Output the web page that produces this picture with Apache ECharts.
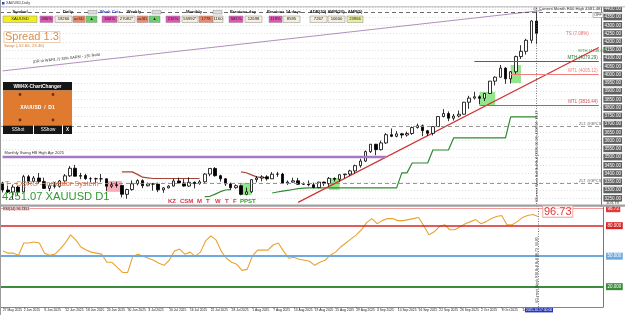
<!DOCTYPE html>
<html><head><meta charset="utf-8">
<script src="https://cdn.jsdelivr.net/npm/echarts@6/dist/echarts.min.js"></script>
<style>html,body{margin:0;padding:0;background:#fff;overflow:hidden}#c{width:625px;height:315px}</style>
</head><body><div id="c"></div>
<script>
// ---------------- DATA ----------------
const dates = [
'27 May 2025','28 May 2025','29 May 2025','30 May 2025',
'2 Jun 2025','3 Jun 2025','4 Jun 2025','5 Jun 2025','6 Jun 2025',
'9 Jun 2025','10 Jun 2025','11 Jun 2025','12 Jun 2025','13 Jun 2025',
'16 Jun 2025','17 Jun 2025','18 Jun 2025','19 Jun 2025','20 Jun 2025',
'23 Jun 2025','24 Jun 2025','25 Jun 2025','26 Jun 2025','27 Jun 2025',
'30 Jun 2025','1 Jul 2025','2 Jul 2025','3 Jul 2025','4 Jul 2025',
'7 Jul 2025','8 Jul 2025','9 Jul 2025','10 Jul 2025','11 Jul 2025',
'14 Jul 2025','15 Jul 2025','16 Jul 2025','17 Jul 2025','18 Jul 2025',
'21 Jul 2025','22 Jul 2025','23 Jul 2025','24 Jul 2025','25 Jul 2025',
'28 Jul 2025','29 Jul 2025','30 Jul 2025','31 Jul 2025','1 Aug 2025',
'4 Aug 2025','5 Aug 2025','6 Aug 2025','7 Aug 2025','8 Aug 2025',
'11 Aug 2025','12 Aug 2025','13 Aug 2025','14 Aug 2025','15 Aug 2025',
'18 Aug 2025','19 Aug 2025','20 Aug 2025','21 Aug 2025','22 Aug 2025',
'25 Aug 2025','26 Aug 2025','27 Aug 2025','28 Aug 2025','29 Aug 2025',
'1 Sep 2025','2 Sep 2025','3 Sep 2025','4 Sep 2025','5 Sep 2025',
'8 Sep 2025','9 Sep 2025','10 Sep 2025','11 Sep 2025','12 Sep 2025',
'15 Sep 2025','16 Sep 2025','17 Sep 2025','18 Sep 2025','19 Sep 2025',
'22 Sep 2025','23 Sep 2025','24 Sep 2025','25 Sep 2025','26 Sep 2025',
'29 Sep 2025','30 Sep 2025','1 Oct 2025','2 Oct 2025','3 Oct 2025',
'6 Oct 2025','7 Oct 2025','8 Oct 2025','9 Oct 2025','10 Oct 2025',
'13 Oct 2025','14 Oct 2025','15 Oct 2025','16 Oct 2025','17 Oct 2025'];
const futureSlots = 12;

const opens = [3342,3300,3288,3318,3289,3381,3353,3373,3352,3310,
3326,3323,3355,3386,3432,3384,3388,3369,3369,3368,
3368,3323,3332,3328,3274,3303,3338,3357,3326,3337,
3336,3301,3313,3324,3355,3343,3324,3347,3339,3350,
3397,3431,3387,3368,3337,3314,3326,3274,3289,3363,
3373,3380,3368,3396,3397,3342,3348,3356,3335,3336,
3332,3315,3348,3339,3371,3365,3393,3397,3416,3448,
3476,3533,3578,3545,3586,3636,3626,3641,3634,3643,
3679,3690,3660,3644,3685,3746,3764,3736,3749,3760,
3833,3858,3866,3857,3886,3961,3985,4040,3975,4018,
4110,4142,4209,4326];
const highs = [3350,3325,3330,3326,3392,3392,3385,3403,3375,3340,
3348,3361,3397,3445,3452,3404,3399,3378,3375,3398,
3370,3348,3350,3329,3308,3358,3365,3365,3345,3343,
3345,3318,3330,3369,3375,3366,3377,3352,3361,3402,
3433,3439,3393,3373,3345,3334,3334,3315,3366,3385,
3390,3390,3409,3410,3404,3358,3375,3374,3346,3358,
3345,3350,3351,3379,3376,3394,3398,3423,3454,3490,
3540,3579,3580,3600,3646,3674,3658,3647,3655,3685,
3703,3697,3665,3688,3749,3791,3777,3762,3782,3835,
3872,3896,3875,3890,3962,3990,4059,4045,4022,4116,
4179,4218,4330,4381];
const lows = [3285,3282,3245,3270,3287,3333,3345,3338,3307,3293,
3310,3315,3340,3380,3382,3366,3362,3348,3340,3348,
3295,3312,3315,3255,3247,3296,3328,3311,3322,3296,
3287,3283,3310,3321,3341,3320,3320,3310,3332,3344,
3384,3381,3351,3325,3302,3308,3268,3268,3281,3347,
3353,3357,3367,3380,3340,3331,3346,3331,3330,3323,
3311,3311,3325,3322,3351,3352,3372,3386,3401,3436,
3470,3525,3511,3540,3580,3621,3620,3614,3624,3635,
3673,3627,3628,3631,3684,3741,3718,3722,3741,3758,
3793,3850,3820,3840,3884,3935,3983,3945,3947,4004,
4095,4122,4190,4185];
const closes = [3300,3288,3318,3289,3381,3353,3373,3352,3310,3326,
3323,3355,3386,3432,3384,3388,3369,3369,3368,3368,
3323,3332,3328,3274,3303,3338,3357,3326,3337,3336,
3301,3313,3324,3355,3343,3324,3347,3339,3350,3397,
3431,3387,3368,3337,3314,3326,3274,3289,3363,3373,
3380,3368,3396,3397,3342,3348,3356,3335,3336,3332,
3315,3348,3339,3371,3365,3393,3397,3416,3448,3476,
3533,3578,3545,3586,3636,3626,3641,3634,3643,3679,
3690,3660,3644,3685,3746,3764,3736,3749,3760,3833,
3858,3866,3857,3886,3961,3985,4040,3975,4018,4110,
4142,4209,4326,4251];

const oscValues = [55,53,53,51,63,63,64,63,53,51,
52,57,63,71,66,59,56,54,53,52,
44,44,39,34,34,50,52,50,48,46,
43,41,46,55,57,52,54,50,54,65,
70,66,55,48,44,42,36,37,50,56,
56,56,61,63,55,48,49,47,46,45,
41,44,46,51,54,59,63,67,71,76,
83,87,82,85,87,87,85,85,86,87,
88,80,71,74,79,81,76,76,79,82,
84,86,82,84,87,89,90,81,81,84,
88,90,91,89];

// stepped trailing lines: [startIndex, values]
const supportSegments = [
 [39,[3260,3262,3275,3290,3300,3302]],
 [52,[3282,3288,3293,3298,3303,3308,3312,
      3313,3313,3313,3313,3313,3313,3313,3313,3313,3313,3313,3313,3313,3313,3313,3313,3313,3313,
      3404,3404,3464,3464,3464,3464,3543,3543,3543,3543,
      3616,3616,3616,3616,3616,3616,3616,3616,3616,3616,3616,
      3744,3744,3744,3744,3744,3744]]
];
const resistSegments = [
 [23,[3410,3410,3410,3395,3378,3374,3370,3370,3370,3370,3370,3370,3370,3370,3370,3370]],
 [46,[3410,3405,3392,3380,3375,3375]]
];
const redTrendIdx = [57,115];
const redTrendPrice = [3225,4165];
const purpleTrendIdx = [0,104];
const purpleTrendPrice = [4023,4390];

const boxStart = [19.8,45.8,63,92,97.5];
const boxEnd   = [22.5,48,65,94.5,99.5];
const boxLow   = [3289,3270,3301,3816,3950];
const boxHigh  = [3355,3343,3373,3895,4059];
const boxKind  = ['pink','green','green','green','green'];

const levelNames  = ['MTH (4079.29)','WTL (4005.12)','MTL (3816.44)'];
const levelValues = [4079.29,4005.12,3816.44];
const levelStart  = [91,98,92];
const zltValues = [3689,3343];
const monthHigh = 4381.48;
const swingHighApr = 3500;
const swingHighEnd = 74;
const oscLevels = [96.73,80,50,20];

// ---------------- BUILD ----------------
const nBars = dates.length;
const cats = dates.concat(Array.from({length:futureSlots},(_,i)=>' '.repeat(i+1)));
const lastSlot = cats.length-1;
const candle = dates.map((d,i)=>[opens[i],closes[i],lows[i],highs[i]]);
function segs(list){const a=new Array(nBars).fill(null);list.forEach(([s,v])=>v.forEach((x,k)=>{a[s+k]=x;}));return a;}
const support = segs(supportSegments), resist = segs(resistSegments);
const FF = 'Liberation Sans, Arial, sans-serif';

const boxColors = {pink:'rgba(246,160,175,0.85)', green:'rgba(130,225,120,0.85)'};
const markAreas = boxStart.map((s,i)=>[{coord:[s,boxLow[i]],itemStyle:{color:boxColors[boxKind[i]]}},{coord:[boxEnd[i],boxHigh[i]]}]);
const levelColors = ['#2e7d32','#ef7f7f','#d65050'];
const mainLines = [];
levelValues.forEach((v,i)=>{
  mainLines.push([{coord:[levelStart[i],v],lineStyle:{color:levelColors[i],width:1.2,type:'solid'},
    label:{show:true,position:'insideEndTop',formatter:levelNames[i],color:levelColors[i],fontSize:4.5,fontFamily:FF,distance:1}},
    {coord:[lastSlot,v]}]);
});
zltValues.forEach(v=>{
  mainLines.push({yAxis:v,lineStyle:{color:'#8a8a8a',width:0.9,type:[4,3]},
    label:{show:true,position:'insideEndTop',formatter:'ZLT @3PCS',color:'#666',fontSize:4,fontFamily:FF,distance:0}});
});
mainLines.push({yAxis:monthHigh,lineStyle:{color:'#444',width:0.8,type:[4,3]},
  label:{show:true,position:'insideEndTop',formatter:'@ Current Month R00 High 4381.48',color:'#333',fontSize:4.2,fontFamily:FF,distance:1}});
mainLines.push([{coord:[0,swingHighApr],lineStyle:{color:'#a778c4',width:2.4,type:'solid'},
  label:{show:true,position:'insideStartTop',formatter:'Monthly Swing HB High Apr 2025',color:'#333',fontSize:4,fontFamily:FF,distance:2}},
  {coord:[swingHighEnd,swingHighApr]}]);
mainLines.push({xAxis:nBars-1,lineStyle:{color:'#555',width:0.8,type:[1,1.5]},label:{show:false}});

const oscColors = ['#f29a9a','#d62424','#6ea9e0','#3c8c3c'];
const oscWidths = [1,1.6,2,2.2];
const oscLines = oscLevels.map((v,i)=>({yAxis:v,lineStyle:{color:oscColors[i],width:oscWidths[i],type:'solid'},
  label:{show:true,position:'end',distance:3,formatter:(i===0?v.toFixed(2):v.toFixed(3)),color:'#fff',backgroundColor:oscColors[i]==='#f29a9a'?'#e23a3a':oscColors[i],
  fontSize:4.5,fontFamily:FF,padding:[1,1.5]}}));
oscLines.push({xAxis:nBars-1,lineStyle:{color:'#555',width:0.8,type:[1,1.5]},label:{show:false}});

// ---------------- DECORATION ----------------
const G = [];
function T(x,y,text,o){o=o||{};G.push({type:'text',z:100,rotation:o.rot||0,x:x,y:y,style:Object.assign({text:text,fill:'#222',fontSize:4.5,fontFamily:FF,align:'left',verticalAlign:'middle'},o.s||{})});}
function R(x,y,w,h,fill,stroke,lw){G.push({type:'rect',z:99,shape:{x:x,y:y,width:w,height:h},style:{fill:fill,stroke:stroke||null,lineWidth:lw||0.5}});}
// window frame
R(0,0,625,7,'#fff'); R(0,6.5,625,0.8,'#9a9a9a'); R(0,0,1,315,'#9a9a9a');
R(2,2,2.5,2.5,'#2050c0');
T(6,3.4,'XAUUSD,Daily',{s:{fontSize:3.6,fill:'#333'}});
// header panel
const hdrLabels=[['Symbol',20,'#222'],['Daily',68,'#222'],['Week Cntr',110,'#3050c8'],['Weekly',134,'#222'],['Monthly',194,'#222'],['Previous day',243,'#222'],['Previous 14 days',284,'#222'],['ADR(20)',318,'#222'],['AWR(20)',336,'#222'],['AMR(5)',355,'#222']];
hdrLabels.forEach(h=>T(h[1],12,h[0],{s:{align:'center',fontSize:4.2,fill:h[2],fontWeight:'bold'}}));
[[88,10.5],[152,10.5],[213,10.5]].forEach(p=>R(p[0],p[1],9,3.5,'#ddd','#777',0.4));
const hdrBoxes=[[3,37,'#f2ee1c','XAUUSD'],[40,53,'#e055b5','286%'],[55,72,'#f6efe0','19266'],[73,85,'#f08a6a','ac5D'],[86,97,'#6ccf6c','\u25b2'],[102,117,'#e055b5','340%'],[118,135,'#f6efe0','27082*'],[137,148,'#f08a6a','ac5D'],[149,160,'#6ccf6c','\u25b2'],[166,180,'#e055b5','216%'],[182,198,'#f6efe0','55992*'],[199,213,'#f08a6a','1778'],[213,223,'#f6efe0','1160'],[229,243,'#e055b5','581%'],[245,262,'#f6efe0','12698'],[269,282,'#e055b5','119%'],[283,300,'#f6efe0','8595'],[310,327,'#f6efe0','7267'],[328,345,'#f6efe0','10600'],[347,363,'#e9f0a0','23966']];
hdrBoxes.forEach(b=>{R(b[0],16,b[1]-b[0],6.5,b[2],'#8a8a8a',0.5);T((b[0]+b[1])/2,19.3,b[3],{s:{align:'center',fontSize:4.2,fill:'#222'}});});
// spread
T(4,37,'Spread 1.3',{s:{fontSize:11,fill:'#d9904a',borderColor:'#e8b080',borderWidth:0.6,padding:[0,1]}});
T(4,45.5,'Swap (-52.66, 23.46)',{s:{fontSize:4.3,fill:'#c88040'}});
T(33,62,'(DR to W&R1.7) 33% SARM - 135 Build',{rot:0.11,s:{fontSize:3.8,fill:'#333'}});
// chart changer panel
R(3,82,69,8.5,'#161616'); T(37.5,86.3,'WM4X-ChartChanger',{s:{align:'center',fontSize:4.8,fill:'#fff',fontWeight:'bold'}});
R(3,90.5,69,35,'#e07a2e');
[[20,94.5],[53,94.5],[20,120],[53,120]].forEach(p=>G.push({type:'circle',z:100,shape:{cx:p[0],cy:p[1],r:1.4},style:{fill:'#6a3010'}}));
T(37.5,107.5,'XAUUSD  /  D1',{s:{align:'center',fontSize:5,fill:'#fff',fontWeight:'bold'}});
R(3,125.5,30,8.5,'#161616'); R(34,125.5,28,8.5,'#161616'); R(63,125.5,9,8.5,'#161616');
T(18,129.8,'SShot',{s:{align:'center',fontSize:4.6,fill:'#fff'}});
T(48,129.8,'SShow',{s:{align:'center',fontSize:4.6,fill:'#fff'}});
T(67.5,129.8,'X',{s:{align:'center',fontSize:4.6,fill:'#fff',fontWeight:'bold'}});
// right side texts
T(566,34,'TS (7.08%)',{s:{fontSize:4.5,fill:'#e07070'}});
T(578,51,'WTH (4138.50)',{s:{fontSize:4.2,fill:'#2e9a2e'}});
R(593,12.5,10,5,'#fff','#777',0.5); T(598,15,'OFF',{s:{align:'center',fontSize:3.8,fill:'#333'}});
// bottom-left texts
T(5,183.5,'T - CQRO - Indicator System',{s:{fontSize:7.3,fill:'#e06a3a'}});
T(2,196.5,'4251.07 XAUUSD D1',{s:{fontSize:11.2,fill:'#2f9a2f'}});
const dayTags=[['KZ',168,'#e0304a'],['CSM',180,'#e0304a'],['M',197,'#e0304a'],['T',206,'#e0304a'],['W',215,'#e0304a'],['T',225,'#e0304a'],['F',233,'#e0304a'],['PPST',240,'#2f9a2f']];
dayTags.forEach(d=>T(d[1],201.5,d[0],{s:{fontSize:6,fill:d[2],fontWeight:'bold'}}));
// vertical labels near current bar
T(537,202,'#Current Week Bull Bull Bull (2025.10.13) 4358.56  16.27',{rot:Math.PI/2,s:{fontSize:3.6,fill:'#333'}});
T(537,303,'#Current Week RSI Bull Bull 96.73  99.85',{rot:Math.PI/2,s:{fontSize:3.6,fill:'#333'}});
// separator between panels
R(0,204.5,625,2.2,'#a0a0a0');
T(3,208.6,'RSI(14) 96.7351',{s:{fontSize:3.6,fill:'#222',backgroundColor:'#f6c6c6'}});
T(543,211.5,'96.73',{s:{fontSize:11,fill:'#e23636',borderColor:'#f0a0a0',borderWidth:0.7,backgroundColor:'rgba(255,255,255,0.6)',padding:[0,1]}});
T(606,202.5,'103.79',{s:{fontSize:4.2,fill:'#333'}});
// current date tag
R(525,307.8,28,4.6,'#2838b8'); T(539,310.2,'2025.10.17 00:00',{s:{align:'center',fontSize:3.4,fill:'#fff'}});

// ---------------- CHART ----------------
const chart = echarts.init(document.getElementById('c'), null, {renderer:'canvas'});
chart.setOption({
  animation:false,
  backgroundColor:'#fff',
  grid:[{left:0,right:22,top:7,height:199.5},{left:0,right:22,top:207,height:100}],
  xAxis:[
    {type:'category',gridIndex:0,data:cats,boundaryGap:true,axisLine:{show:false},axisTick:{show:false},axisLabel:{show:false},splitLine:{show:false}},
    {type:'category',gridIndex:1,data:cats,boundaryGap:true,axisLine:{show:true,lineStyle:{color:'#666',width:0.8}},
     axisTick:{show:true,length:1.5,alignWithLabel:true,interval:(i,v)=>i%4===0&&i<nBars,lineStyle:{color:'#666',width:0.6}},
     axisLabel:{show:true,interval:(i,v)=>i%4===0&&i<nBars,align:'left',fontSize:3.3,color:'#222',fontFamily:FF,margin:1.2},splitLine:{show:false}}
  ],
  yAxis:[
    {type:'value',gridIndex:0,position:'right',min:3200,max:4411,interval:50,
     axisLine:{show:true,lineStyle:{color:'#555',width:0.8}},axisTick:{show:false},
     axisLabel:{show:true,showMinLabel:false,showMaxLabel:false,formatter:v=>v.toFixed(2),fontSize:4.6,color:'#fff',backgroundColor:'#5f5f5f',padding:[0.8,1],margin:2,fontFamily:FF},
     splitLine:{show:true,lineStyle:{color:'#cfcfcf',width:0.6,type:[1,2]}}},
    {type:'value',gridIndex:1,position:'right',min:0,max:98.4,
     axisLine:{show:true,lineStyle:{color:'#555',width:0.8}},axisTick:{show:false},axisLabel:{show:false},splitLine:{show:false}}
  ],
  series:[
    {type:'candlestick',name:'XAUUSD',xAxisIndex:0,yAxisIndex:0,data:candle,barWidth:3,
     itemStyle:{color:'#ffffff',color0:'#000000',borderColor:'#000000',borderColor0:'#000000',borderWidth:0.8},
     markArea:{silent:true,data:markAreas},
     markLine:{silent:true,symbol:['none','none'],data:mainLines},z:3},
    {type:'line',name:'support',xAxisIndex:0,yAxisIndex:0,data:support,symbol:'none',connectNulls:false,lineStyle:{color:'#2f8a2f',width:1.2},z:2},
    {type:'line',name:'resistance',xAxisIndex:0,yAxisIndex:0,data:resist,symbol:'none',connectNulls:false,lineStyle:{color:'#a8453a',width:1.2},z:2},
    {type:'line',name:'trend',xAxisIndex:0,yAxisIndex:0,data:redTrendIdx.map((x,i)=>[x,redTrendPrice[i]]),symbol:'none',lineStyle:{color:'#d23232',width:1.2},z:2},
    {type:'line',name:'channel',xAxisIndex:0,yAxisIndex:0,data:purpleTrendIdx.map((x,i)=>[x,purpleTrendPrice[i]]),symbol:'none',lineStyle:{color:'#9a74a8',width:0.8},z:2},
    {type:'line',name:'RSI',xAxisIndex:1,yAxisIndex:1,data:oscValues,symbol:'none',lineStyle:{color:'#e9a232',width:1.1},
     markLine:{silent:true,symbol:['none','none'],data:oscLines},z:3}
  ],
  graphic:{elements:G}
});
</script></body></html>
